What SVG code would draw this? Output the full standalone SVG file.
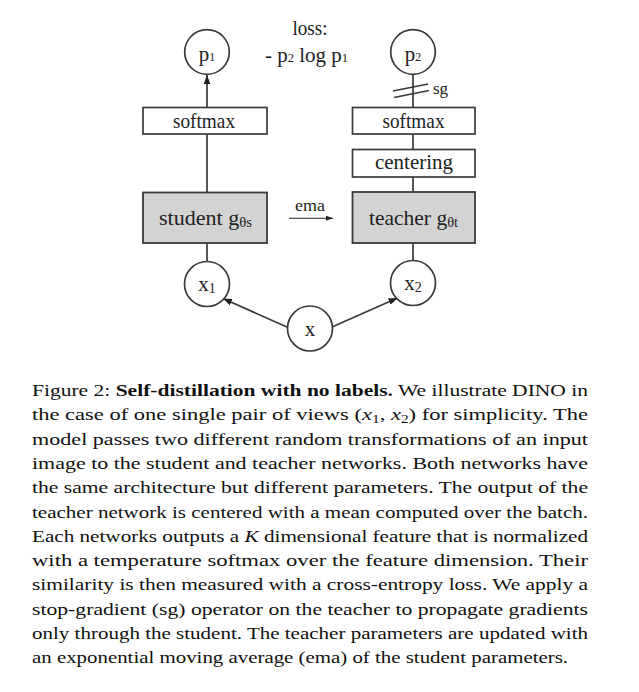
<svg xmlns="http://www.w3.org/2000/svg" width="639" height="692" viewBox="0 0 639 692">
<style>
.node{fill:#fff;stroke:#3a3a3a;stroke-width:1.7}
.net{fill:#d3d3d3;stroke:#3a3a3a;stroke-width:1.8}
.lbl{font-family:"Liberation Serif","Times New Roman",serif;font-size:21px;fill:#222}
.small{font-family:"Liberation Serif","Times New Roman",serif;font-size:17px;fill:#222}
.wire{stroke:#3a3a3a;stroke-width:1.7;fill:none}
.thin{stroke:#222;stroke-width:1.1;fill:none}
.cap{font-family:"Liberation Serif","Times New Roman",serif;font-size:16.8px;fill:#111}
</style>
<defs>
<marker id="ah" markerUnits="userSpaceOnUse" markerWidth="10" markerHeight="8" refX="9" refY="4" orient="auto">
<path d="M0,0.6 L9,4 L0,7.4 Z" fill="#222"/>
</marker>
<marker id="ahs" markerUnits="userSpaceOnUse" markerWidth="8" markerHeight="7" refX="7.5" refY="3.5" orient="auto">
<path d="M0,0.8 L7.5,3.5 L0,6.2 Z" fill="#222"/>
</marker>
</defs>

<g id="connectors">
<line class="wire" x1="207" y1="107" x2="207" y2="75" marker-end="url(#ah)"/>
<line class="wire" x1="207" y1="192" x2="207" y2="134"/>
<line class="wire" x1="207" y1="262" x2="207" y2="243"/>
<line class="wire" x1="413" y1="74" x2="413" y2="107"/>
<line class="wire" x1="413" y1="134" x2="413" y2="149"/>
<line class="wire" x1="413" y1="177" x2="413" y2="191"/>
<line class="wire" x1="413" y1="243" x2="413" y2="261"/>
<line class="wire" x1="288" y1="327.5" x2="223" y2="298.5" marker-end="url(#ah)"/>
<line class="wire" x1="332" y1="327" x2="397.5" y2="298" marker-end="url(#ah)"/>
<line class="thin" x1="289" y1="218.3" x2="333" y2="218.3" marker-end="url(#ahs)"/>
<line class="wire" x1="393" y1="91" x2="428" y2="84"/>
<line class="wire" x1="394" y1="97.5" x2="429" y2="90.5"/>
</g>

<g id="p1">
<circle class="node" cx="207" cy="52" r="22.3"/>
<text class="lbl" x="207" y="61" text-anchor="middle" font-size="22">p<tspan font-size="12">1</tspan></text>
</g>
<g id="p2">
<circle class="node" cx="413" cy="52" r="22.3"/>
<text class="lbl" x="413" y="61" text-anchor="middle" font-size="22">p<tspan font-size="12">2</tspan></text>
</g>
<g id="loss">
<text class="lbl" x="310" y="35" text-anchor="middle" textLength="35" lengthAdjust="spacingAndGlyphs">loss:</text>
<text class="lbl" x="306.5" y="62" text-anchor="middle" font-size="19.5">- p<tspan font-size="12.5">2</tspan> log p<tspan font-size="12.5">1</tspan></text>
</g>
<g id="sg">
<text class="small" x="433" y="94">sg</text>
</g>
<g id="softmax-student">
<rect class="node" x="143" y="107.5" width="124" height="26.5"/>
<text class="lbl" x="204" y="127.5" text-anchor="middle" textLength="62" lengthAdjust="spacingAndGlyphs">softmax</text>
</g>
<g id="softmax-teacher">
<rect class="node" x="352.5" y="107.5" width="122.5" height="26.5"/>
<text class="lbl" x="413.5" y="127.5" text-anchor="middle" textLength="62" lengthAdjust="spacingAndGlyphs">softmax</text>
</g>
<g id="centering">
<rect class="node" x="352.5" y="149.5" width="122.5" height="27.5"/>
<text class="lbl" x="414" y="168.5" text-anchor="middle" textLength="78" lengthAdjust="spacingAndGlyphs">centering</text>
</g>
<g id="student">
<rect class="net" x="143" y="192.5" width="124" height="50.5"/>
<text class="lbl" x="159" y="224.5" textLength="93" lengthAdjust="spacingAndGlyphs">student g<tspan font-size="14" dy="2.5">θs</tspan></text>
</g>
<g id="teacher">
<rect class="net" x="352.5" y="192" width="122.5" height="51"/>
<text class="lbl" x="369" y="224.5" textLength="89" lengthAdjust="spacingAndGlyphs">teacher g<tspan font-size="14" dy="2.5">θt</tspan></text>
</g>
<g id="ema">
<text class="small" x="310" y="211" text-anchor="middle" textLength="30" lengthAdjust="spacingAndGlyphs">ema</text>
</g>
<g id="x1">
<circle class="node" cx="207" cy="284" r="22.5"/>
<text class="lbl" x="207" y="291" text-anchor="middle">x<tspan font-size="14" dy="2">1</tspan></text>
</g>
<g id="x2">
<circle class="node" cx="413" cy="283" r="22.5"/>
<text class="lbl" x="413" y="290" text-anchor="middle">x<tspan font-size="14" dy="2">2</tspan></text>
</g>
<g id="x">
<circle class="node" cx="310" cy="328.5" r="22.5"/>
<text class="lbl" x="310" y="335.5" text-anchor="middle">x</text>
</g>

<g id="caption">
<text class="cap" x="32" y="396" textLength="556" lengthAdjust="spacingAndGlyphs">Figure 2: <tspan font-weight="bold">Self-distillation with no labels.</tspan> We illustrate DINO in</text>
<text class="cap" x="32" y="420.3" textLength="556" lengthAdjust="spacingAndGlyphs">the case of one single pair of views (<tspan font-style="italic">x</tspan><tspan font-size="11.5" dy="3">1</tspan><tspan dy="-3">, </tspan><tspan font-style="italic">x</tspan><tspan font-size="11.5" dy="3">2</tspan><tspan dy="-3">) for simplicity.  The</tspan></text>
<text class="cap" x="32" y="444.6" textLength="556" lengthAdjust="spacingAndGlyphs">model passes two different random transformations of an input</text>
<text class="cap" x="32" y="468.9" textLength="556" lengthAdjust="spacingAndGlyphs">image to the student and teacher networks.  Both networks have</text>
<text class="cap" x="32" y="493.2" textLength="556" lengthAdjust="spacingAndGlyphs">the same architecture but different parameters. The output of the</text>
<text class="cap" x="32" y="517.5" textLength="556" lengthAdjust="spacingAndGlyphs">teacher network is centered with a mean computed over the batch.</text>
<text class="cap" x="32" y="541.8" textLength="556" lengthAdjust="spacingAndGlyphs">Each networks outputs a <tspan font-style="italic">K</tspan> dimensional feature that is normalized</text>
<text class="cap" x="32" y="566.1" textLength="556" lengthAdjust="spacingAndGlyphs">with a temperature softmax over the feature dimension.  Their</text>
<text class="cap" x="32" y="590.4" textLength="556" lengthAdjust="spacingAndGlyphs">similarity is then measured with a cross-entropy loss. We apply a</text>
<text class="cap" x="32" y="614.7" textLength="556" lengthAdjust="spacingAndGlyphs">stop-gradient (sg) operator on the teacher to propagate gradients</text>
<text class="cap" x="32" y="639" textLength="556" lengthAdjust="spacingAndGlyphs">only through the student. The teacher parameters are updated with</text>
<text class="cap" x="32" y="663.3" textLength="536" lengthAdjust="spacingAndGlyphs">an exponential moving average (ema) of the student parameters.</text>
</g>
</svg>
